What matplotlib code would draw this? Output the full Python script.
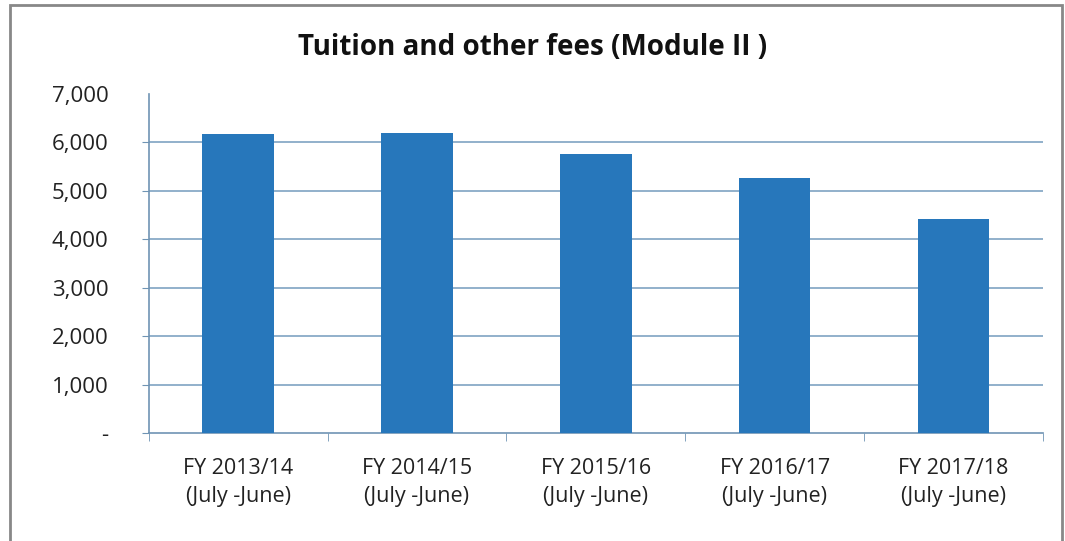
import matplotlib.pyplot as plt
from matplotlib.patches import Rectangle
from matplotlib.ticker import FuncFormatter

categories = ["FY 2013/14\n(July -June)", "FY 2014/15\n(July -June)", "FY 2015/16\n(July -June)",
              "FY 2016/17\n(July -June)", "FY 2017/18\n(July -June)"]
values = [6170, 6190, 5745, 5265, 4420]
yticks = [0, 1000, 2000, 3000, 4000, 5000, 6000, 7000]

plt.rcParams['font.family'] = ['Open Sans', 'DejaVu Sans']

fig = plt.figure(figsize=(10.65, 5.41), dpi=100)
ax = fig.add_axes([0.1396, 0.1996, 0.8397, 0.6275])

x = list(range(len(categories)))
ax.bar(x, values, width=0.4, color='#2777BB', zorder=3)

ax.set_xlim(-0.5, len(categories) - 0.5)
ax.set_ylim(0, 7000)
ax.set_yticks(yticks)
ax.yaxis.set_major_formatter(FuncFormatter(lambda v, p: '-' if v == 0 else f'{int(v):,}'))
ax.set_xticks(x)
ax.set_xticklabels(categories, fontsize=15.5, color='#222222', linespacing=1.45)
ax.set_xticks([i - 0.5 for i in range(len(categories) + 1)], minor=True)
ax.tick_params(axis='x', which='major', length=0, pad=18)
ax.tick_params(axis='x', which='minor', length=6, color='#6F94B4')
ax.tick_params(axis='y', length=5, color='#6F94B4', labelsize=16, labelcolor='#222222', pad=24)

# gridlines, no line at the top value
for v in yticks[1:-1]:
    ax.axhline(v, color='#7FA3C2', linewidth=1.2, zorder=0)
ax.yaxis.get_major_ticks()[-1].tick1line.set_visible(False)

for s in ['top', 'right']:
    ax.spines[s].set_visible(False)
ax.spines['left'].set_color('#6F94B4')
ax.spines['bottom'].set_color('#6F94B4')
ax.spines['left'].set_linewidth(1.2)
ax.spines['bottom'].set_linewidth(1.2)

fig.text(0.5, 0.912, "Tuition and other fees (Module II )", ha='center', va='center',
         fontsize=20, fontweight='bold', color='#111111')

fig.patches.append(Rectangle((0.009, -0.01), 0.988, 1.0, transform=fig.transFigure,
                             fill=False, edgecolor='#888888', linewidth=2))

plt.savefig("out.png")
plt.close()
